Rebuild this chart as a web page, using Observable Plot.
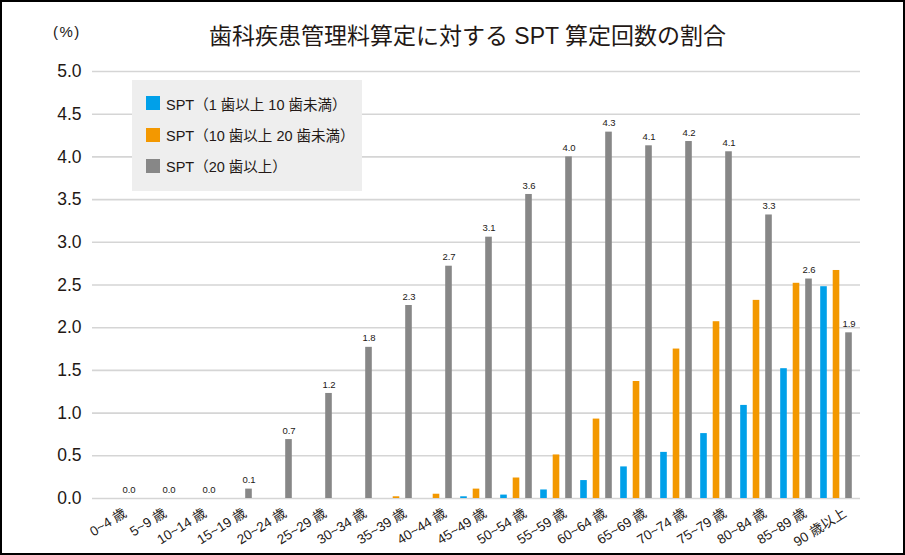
<!DOCTYPE html>
<html>
<head>
<meta charset="utf-8">
<script src="https://cdn.jsdelivr.net/npm/d3@7"></script>
<script src="https://cdn.jsdelivr.net/npm/@observablehq/plot@0.6"></script>
<style>
  html, body { margin: 0; padding: 0; background: #fff; }
  body { font-family: "Liberation Sans", "Noto Sans CJK JP", sans-serif; color: #231815; }
  #wrap { position: relative; width: 905px; height: 555px; overflow: hidden; }
  #frame { position: absolute; left: 0; top: 0; width: 905px; height: 555px; box-sizing: border-box; border: 2px solid #000; pointer-events: none; z-index: 5; }
  #title { height: 60px; box-sizing: border-box; padding-top: 21px; padding-left: 30px; text-align: center; font-size: 23px; line-height: 30px; white-space: nowrap; }
  #unit { position: absolute; left: 53px; top: 23px; font-size: 15px; letter-spacing: 1.5px; line-height: 18px; }
  #legend { position: absolute; left: 132px; top: 80px; width: 230px; height: 111px; background: #eeeeee; }
  .item { position: absolute; left: 14px; height: 20px; display: flex; align-items: center; font-size: 14.5px; white-space: nowrap; }
  .sw { width: 14px; height: 14px; margin-right: 6px; }
  svg { display: block; }
</style>
</head>
<body>
<div id="wrap">
  <div id="title"></div>
  <div id="unit">(%)</div>
  <div id="chart"></div>
  <div id="legend"></div>
  <div id="frame"></div>
</div>
<script>
const title = "歯科疾患管理料算定に対する SPT 算定回数の割合";
const unitLabel = "(%)";
const categories = ["0~4 歳","5~9 歳","10~14 歳","15~19 歳","20~24 歳","25~29 歳","30~34 歳","35~39 歳","40~44 歳","45~49 歳","50~54 歳","55~59 歳","60~64 歳","65~69 歳","70~74 歳","75~79 歳","80~84 歳","85~89 歳","90 歳以上"];
const seriesNames = ["SPT（1 歯以上 10 歯未満）","SPT（10 歯以上 20 歯未満）","SPT（20 歯以上）"];
const blue   = [0,0,0,0,0,0,0,0,0,0.02,0.04,0.10,0.21,0.37,0.54,0.76,1.09,1.52,2.48];
const orange = [0,0,0,0,0,0,0,0.02,0.05,0.11,0.24,0.51,0.93,1.37,1.75,2.07,2.32,2.52,2.67];
const gray   = [0,0,0,0.11,0.69,1.23,1.77,2.26,2.72,3.06,3.56,4.00,4.29,4.13,4.18,4.06,3.32,2.57,1.94];
const yTicks = [0,0.5,1.0,1.5,2.0,2.5,3.0,3.5,4.0,4.5,5.0];
const colors = ["#00a0e9","#f39800","#878787"];

document.getElementById("title").textContent = title;
document.getElementById("unit").textContent = unitLabel;

const rows = categories.map((c, i) => ({cat: c, blue: blue[i], orange: orange[i], gray: gray[i]}));

const inset = 16.7;
const off = 12.5;
const font = '"Liberation Sans", "Noto Sans CJK JP", sans-serif';

const chart = Plot.plot({
  width: 905,
  height: 495,
  marginTop: 11,
  marginBottom: 57,
  marginLeft: 92,
  marginRight: 45,
  style: {fontFamily: font, color: "#231815", background: "transparent", overflow: "visible"},
  x: {domain: categories, padding: 0, axis: null},
  y: {domain: [0, 5], axis: null},
  marks: [
    Plot.ruleY(yTicks, {y: d => d, stroke: "#d5d5d5", strokeWidth: 1.6}),
    Plot.text(yTicks, {y: d => d, text: d => d.toFixed(1), frameAnchor: "left", textAnchor: "end", dx: -11, fontSize: 17.5, fill: "#231815"}),
    Plot.barY(rows, {x: "cat", y: "blue", fill: colors[0], insetLeft: inset, insetRight: inset, dx: -off}),
    Plot.barY(rows, {x: "cat", y: "orange", fill: colors[1], insetLeft: inset, insetRight: inset}),
    Plot.barY(rows, {x: "cat", y: "gray", fill: colors[2], insetLeft: inset, insetRight: inset, dx: off}),
    Plot.text(rows, {x: "cat", y: "gray", text: d => d.gray.toFixed(1), dx: off, dy: -9, fontSize: 9.5, fill: "#231815"}),
    Plot.text(categories, {x: d => d, frameAnchor: "bottom", text: d => d, rotate: -32, textAnchor: "end", dx: 11, dy: 17, fontSize: 13.5, fill: "#231815"})
  ]
});
document.getElementById("chart").appendChild(chart);

const leg = document.getElementById("legend");
const centers = [23, 54.5, 85.5];
seriesNames.forEach((name, i) => {
  const it = document.createElement("div");
  it.className = "item";
  it.style.top = (centers[i] - 10) + "px";
  const sw = document.createElement("div");
  sw.className = "sw";
  sw.style.background = colors[i];
  const tx = document.createElement("span");
  tx.textContent = name;
  it.appendChild(sw);
  it.appendChild(tx);
  leg.appendChild(it);
});
</script>
</body>
</html>
